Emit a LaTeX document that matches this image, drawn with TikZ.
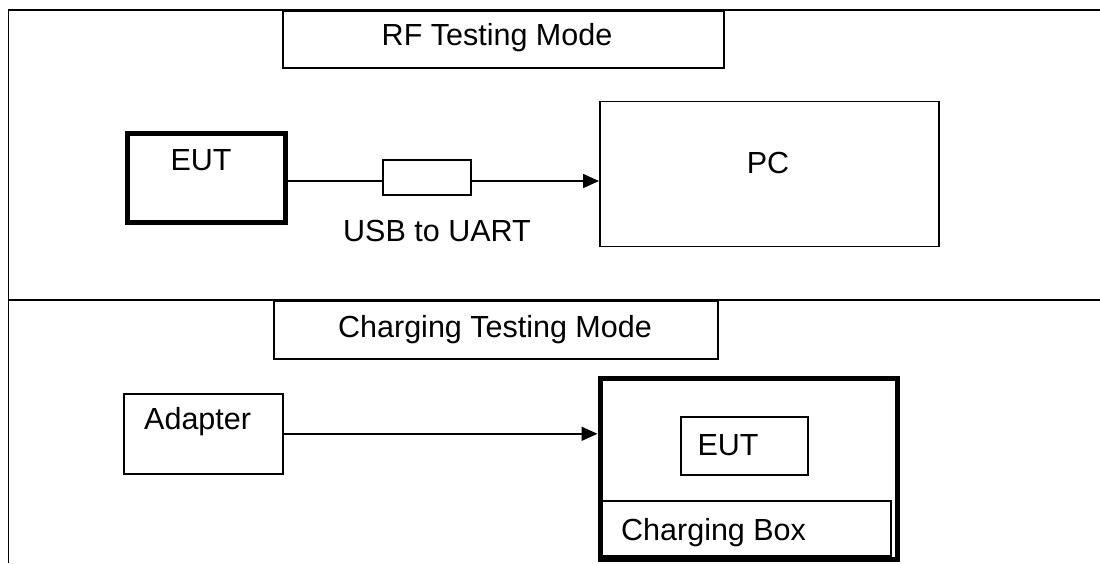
\documentclass[tikz,border=0pt]{standalone}
\usepackage{fontspec}
\setmainfont{Liberation Sans}
\usetikzlibrary{arrows.meta}
\begin{document}
\begin{tikzpicture}[x=1pt,y=-1pt,
  thinline/.style={line width=1.6pt},
  box/.style={draw, thinline, rectangle, inner sep=0pt, anchor=north west},
  thickbox/.style={draw, line width=5pt, rectangle, inner sep=0pt, anchor=north west},
  txt/.style={inner sep=0pt, font=\fontsize{30.5}{36}\selectfont},
  conn/.style={thinline, -{Triangle[length=16pt,width=14pt]}}]
\useasboundingbox (0,0) rectangle (1100,563);
% frame
\coordinate (tl) at (8.5,10);
\coordinate (tr) at (1100,10);
\coordinate (bl) at (8.5,563);
\coordinate (ml) at (8.5,300);
\coordinate (mr) at (1100,300);
\draw[line width=1.8pt] (tr) -- (tl) -- (bl);
\draw[thinline] (ml) -- (mr);
% RF section
\node[box, minimum width=441, minimum height=57] (rftitle) at (282,10) {};
\node[txt] (rftext) at (497,38) {RF Testing Mode};
\node[thickbox, minimum width=158, minimum height=89] (eut1) at (124.5,130.5) {};
\node[txt] (eut1t) at (201,160) {EUT};
\node[box, minimum width=88, minimum height=35] (usb) at (382,159) {};
\node[txt] (usbt) at (437,231) {USB to UART};
\node[box, minimum width=339, minimum height=145] (pc) at (599,100.5) {};
\node[txt] (pct) at (768,163) {PC};
\coordinate (l1) at (0,181);
\draw[thinline] (eut1.east |- l1) -- (usb.west |- l1);
\draw[conn] (usb.east |- l1) -- (pc.west |- l1);
% Charging section
\node[box, minimum width=444, minimum height=58] (chtitle) at (273,300) {};
\node[txt] (chtext) at (495,330) {Charging Testing Mode};
\node[box, minimum width=159, minimum height=80] (adapter) at (123,393) {};
\node[txt, anchor=west] (adaptert) at (144,422) {Adapter};
\node[thickbox, minimum width=297, minimum height=181] (chbox) at (597.5,376) {};
\node[box, minimum width=127, minimum height=58] (eut2) at (680,416) {};
\node[txt] (eut2t) at (728,445) {EUT};
\node[box, minimum width=289, minimum height=55] (cbox) at (601,500) {};
\node[txt, anchor=west] (cboxt) at (621,533) {Charging Box};
\draw[conn] (adapter.east) -- (chbox.west |- adapter.east);
\end{tikzpicture}
\end{document}
